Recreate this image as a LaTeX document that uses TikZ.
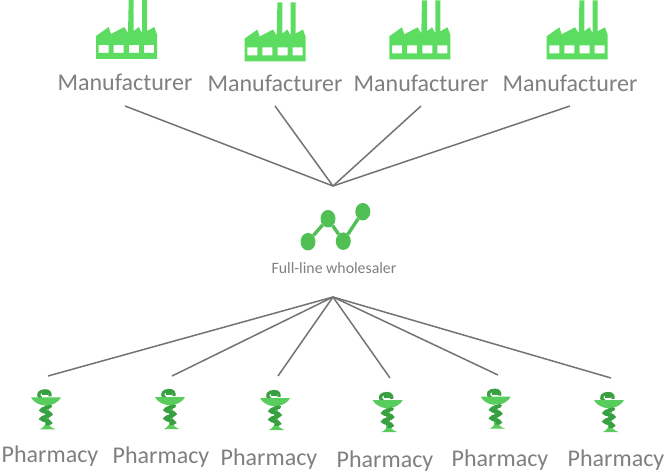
\documentclass[tikz,border=0pt]{standalone}
\usepackage{fontspec}
\usetikzlibrary{shapes.geometric}
\setmainfont{Carlito}
\definecolor{facgreen}{HTML}{5CDD62}
\definecolor{netgreen}{HTML}{50C055}
\definecolor{phlight}{HTML}{58CC5C}
\definecolor{phdark}{HTML}{38A040}
\definecolor{txtgrey}{HTML}{7F7F7F}
\definecolor{lnk}{HTML}{737373}
\tikzset{
  x=1bp,y=-1bp,
  biglabel/.style={text=txtgrey,font=\fontsize{24bp}{26bp}\selectfont,inner sep=0pt},
  smalllabel/.style={text=txtgrey,font=\fontsize{15.8bp}{17bp}\selectfont,inner sep=0pt},
  linkline/.style={draw=lnk,line width=1.5bp},
  netline/.style={draw=netgreen,line width=3.4bp},
  netdot/.style={ellipse,fill=netgreen,minimum width=15bp,minimum height=17.5bp,inner sep=0pt},
  factory/.pic={
    \fill[facgreen,even odd rule]
      (0,0)--(0,-23)--(12.7,-32)--(15,-25)--(28.3,-32)--(32,-26)--(32.7,-59)--(37.7,-59)--(37.7,-28)
      --(42.7,-32)--(46,-26)--(46,-59)--(51,-59)--(51,-28)--(58.3,-32)--(61,-24.3)--(61,0)--cycle
      (2.7,-14) rectangle (12.7,-6)
      (17.7,-14) rectangle (27.7,-6)
      (33,-14) rectangle (43,-6)
      (48,-14) rectangle (58,-6);
  },
  pharmacy/.pic={
    % snake head
    \draw[phdark,line width=3.2bp] (-5,1) .. controls (-10,-3) and (-6,-6.5) .. (-1,-6.5) .. controls (3,-6.5) and (4.5,-4.5) .. (4,-1);
    \fill[phdark] (-4,-5) rectangle (2,-2.2);
    % cup
    \fill[phlight] (-15,0) -- (15,0) .. controls (13,4.5) and (7,7.5) .. (3,8) -- (-3,8) .. controls (-7,7.5) and (-13,4.5) .. (-15,0) -- cycle;
    % stem
    \fill[phlight] (-1.5,8) rectangle (2.5,29);
    % spiral
    \draw[phdark,line width=3.6bp,line cap=round] (4.5,9) .. controls (1,10.5) and (-4,11) .. (-4.5,13) .. controls (-4,15) and (4.5,14.5) .. (4.5,17)
       .. controls (4,19) and (-4.5,19.5) .. (-4.5,21.5) .. controls (-4,23.5) and (4,23) .. (4,25.5) -- (1,27.5);
    % base
    \fill[phlight] (-1.5,28) -- (3,28) .. controls (4,30) and (7,30.5) .. (9.5,32) -- (-6,32) .. controls (-4,30.5) and (-2,30) .. (-1.5,28) -- cycle;
  }
}
\begin{document}
\begin{tikzpicture}
\useasboundingbox (0,0) rectangle (667,473);
\pic at (96,59) {factory};
\pic at (244.7,61.5) {factory};
\pic at (389.3,59.3) {factory};
\pic at (546.7,59.3) {factory};
\node[biglabel] (m1) at (125,82) {Manufacturer};
\node[biglabel] (m2) at (275,83) {Manufacturer};
\node[biglabel] (m3) at (421,83) {Manufacturer};
\node[biglabel] (m4) at (570,83) {Manufacturer};
\coordinate (hubtop) at (333,186);
\coordinate (hubbot) at (333,297);
\coordinate (e1) at (125,106);
\coordinate (e2) at (275,106);
\coordinate (e3) at (421,106);
\coordinate (e4) at (570,106);
\foreach \i in {1,2,3,4} \draw[linkline] (e\i) -- (hubtop);
\node[netdot] (w1) at (308,241.7) {};
\node[netdot] (w2) at (328,218.7) {};
\node[netdot] (w3) at (343.3,241.2) {};
\node[netdot] (w4) at (362.8,211.7) {};
\draw[netline] (w1) -- (w2) -- (w3) -- (w4);
\node[smalllabel] (w) at (334,268) {Full-line wholesaler};
\coordinate (p1) at (48,376);
\coordinate (p2) at (172,376);
\coordinate (p3) at (278,376);
\coordinate (p4) at (390,378);
\coordinate (p5) at (498,375);
\coordinate (p6) at (611,378);
\foreach \i in {1,2,3,4,5,6} \draw[linkline] (hubbot) -- (p\i);
\pic at (46,397.3) {pharmacy};
\pic at (170,397) {pharmacy};
\pic at (275,398) {pharmacy};
\pic at (387.7,400) {pharmacy};
\pic at (495.7,396.7) {pharmacy};
\pic at (609,400) {pharmacy};
\node[biglabel] (f1) at (50,456) {Pharmacy};
\node[biglabel] (f2) at (161,457) {Pharmacy};
\node[biglabel] (f3) at (269,459) {Pharmacy};
\node[biglabel] (f4) at (385,461) {Pharmacy};
\node[biglabel] (f5) at (500,460) {Pharmacy};
\node[biglabel] (f6) at (616,460) {Pharmacy};
\end{tikzpicture}
\end{document}
